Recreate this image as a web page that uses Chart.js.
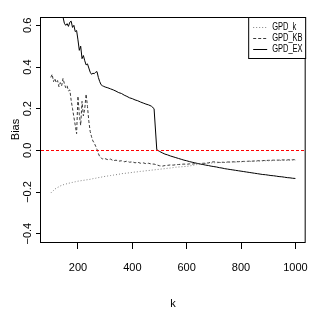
<!DOCTYPE html>
<html lang="en">
<head>
<meta charset="UTF-8">
<title>Bias vs k</title>
<style>
    body { margin: 0; padding: 0; background: #fff; }
    #wrap { width: 320px; height: 327px; }
</style>
<script src="https://cdn.jsdelivr.net/npm/chart.js"></script>
</head>
<body>
<div id="wrap"><canvas id="biasChart" width="320" height="327"></canvas></div>
<script>
// k values (finer step at the start where the curves are noisy)
const kValues = [
    100, 105, 110, 115, 120, 125, 130, 135, 140, 145,
    150, 155, 160, 165, 170, 175, 180, 185, 190, 195,
    200, 205, 210, 215, 220, 225, 230, 235, 240, 245,
    250, 255, 260, 265, 270, 275, 280, 285, 290, 295,
    300,
    310, 320, 330, 340, 350, 360, 370, 380, 390, 400,
    410, 420, 430, 440, 450, 460, 470, 480, 490, 500,
    510, 520, 530, 540, 550, 560, 570, 580, 590, 600,
    610, 620, 630, 640, 650, 660, 670, 680, 690, 700,
    710, 720, 730, 740, 750, 760, 770, 780, 790, 800,
    810, 820, 830, 840, 850, 860, 870, 880, 890, 900,
    910, 920, 930, 940, 950, 960, 970, 980, 990, 1000
];

// GPD_k (dotted)
const biasK = [
    -0.205, -0.198, -0.193, -0.186, -0.182, -0.178, -0.175, -0.171, -0.168, -0.166,
    -0.163, -0.162, -0.160, -0.158, -0.157, -0.155, -0.154, -0.152, -0.151, -0.149,
    -0.148, -0.147, -0.146, -0.145, -0.144, -0.143, -0.142, -0.141, -0.140, -0.139,
    -0.138, -0.136, -0.135, -0.134, -0.132, -0.131, -0.130, -0.129, -0.127, -0.126,
    -0.125,
    -0.123, -0.121, -0.119, -0.117, -0.115, -0.112, -0.111, -0.109, -0.108, -0.106,
    -0.104, -0.103, -0.101, -0.100, -0.098, -0.097, -0.095, -0.094, -0.092, -0.091,
    -0.089, -0.088, -0.086, -0.085, -0.083, -0.081, -0.080, -0.079, -0.078, -0.077,
    -0.075, -0.073, -0.070, -0.068, -0.066, -0.064, -0.063, -0.062, -0.061, -0.060,
    -0.059, -0.059, -0.058, -0.058, -0.057, -0.057, -0.056, -0.056, -0.055, -0.055,
    -0.054, -0.054, -0.053, -0.053, -0.052, -0.052, -0.051, -0.051, -0.050, -0.050,
    -0.050, -0.049, -0.049, -0.049, -0.048, -0.048, -0.048, -0.048, -0.047, -0.047
];

// GPD_KB (dashed)
const biasKB = [
    0.350, 0.365, 0.330, 0.345, 0.325, 0.335, 0.305, 0.325, 0.310, 0.345,
    0.320, 0.300, 0.310, 0.285, 0.290, 0.240, 0.200, 0.160, 0.120, 0.080,
    0.260, 0.170, 0.120, 0.235, 0.165, 0.200, 0.270, 0.210, 0.140, 0.090,
    0.065, 0.045, 0.035, 0.020, 0.005, -0.015, -0.030, -0.035, -0.042, -0.038,
    -0.040,
    -0.045, -0.042, -0.050, -0.047, -0.052, -0.050, -0.055, -0.052, -0.057, -0.055,
    -0.060, -0.057, -0.062, -0.060, -0.064, -0.062, -0.066, -0.066, -0.070, -0.074,
    -0.076, -0.073, -0.072, -0.070, -0.071, -0.069, -0.068, -0.067, -0.066, -0.067,
    -0.065, -0.066, -0.064, -0.063, -0.064, -0.062, -0.062, -0.060, -0.057, -0.055,
    -0.057, -0.058, -0.057, -0.058, -0.056, -0.056, -0.055, -0.056, -0.054, -0.054,
    -0.053, -0.053, -0.052, -0.052, -0.051, -0.050, -0.050, -0.049, -0.049, -0.048,
    -0.048, -0.047, -0.047, -0.047, -0.046, -0.046, -0.046, -0.045, -0.045, -0.045
];

// GPD_EX (solid)
const biasEX = [
    0.800, 0.780, 0.770, 0.750, 0.730, 0.720, 0.700, 0.680, 0.660, 0.640,
    0.610, 0.600, 0.608, 0.595, 0.615, 0.620, 0.590, 0.600, 0.570, 0.575,
    0.530, 0.480, 0.500, 0.440, 0.455, 0.430, 0.410, 0.415, 0.395, 0.375,
    0.365, 0.370, 0.368, 0.375, 0.378, 0.350, 0.330, 0.315, 0.310, 0.307,
    0.304,
    0.300, 0.295, 0.290, 0.284, 0.277, 0.273, 0.265, 0.259, 0.252, 0.248,
    0.242, 0.238, 0.232, 0.227, 0.222, 0.218, 0.212, 0.200, 0.003, -0.005,
    -0.012, -0.018, -0.022, -0.027, -0.031, -0.035, -0.039, -0.043, -0.047, -0.050,
    -0.054, -0.057, -0.060, -0.063, -0.066, -0.068, -0.071, -0.073, -0.076, -0.078,
    -0.080, -0.083, -0.085, -0.088, -0.090, -0.092, -0.094, -0.096, -0.098, -0.100,
    -0.102, -0.104, -0.106, -0.108, -0.110, -0.112, -0.114, -0.116, -0.117, -0.119,
    -0.121, -0.122, -0.124, -0.126, -0.127, -0.129, -0.131, -0.132, -0.134, -0.135
];

const xTicks = [200, 400, 600, 800, 1000];
const yTicks = [-0.4, -0.2, 0.0, 0.2, 0.4, 0.6];
const refValue = 0; // red dashed line

const FONT = "'Liberation Sans', Arial, sans-serif";

const toPoints = ys => kValues.map((k, i) => ({ x: k, y: ys[i] }));

// red line at 0, box round the plot and the legend, R style
const rPlotPlugin = {
    id: 'rPlot',
    afterDatasetsDraw(chart) {
        const { ctx, chartArea: a, scales } = chart;
        const y0 = Math.round(scales.y.getPixelForValue(refValue)) + 0.5;
        ctx.save();
        ctx.lineWidth = 1;
        ctx.strokeStyle = '#ff0000';
        ctx.setLineDash([3, 2]);
        ctx.beginPath();
        ctx.moveTo(a.left, y0);
        ctx.lineTo(a.right, y0);
        ctx.stroke();
        ctx.restore();
    },
    afterDraw(chart) {
        const { ctx, chartArea: a } = chart;
        ctx.save();
        ctx.lineWidth = 1;
        ctx.strokeStyle = '#000';
        ctx.setLineDash([]);
        ctx.strokeRect(a.left - 0.5, a.top + 0.5, a.right - a.left + 0.5, a.bottom - a.top);

        // legend in the top right corner
        const w = 57, h = 41;
        const x0 = a.right - w;
        ctx.fillStyle = '#fff';
        ctx.fillRect(x0 + 0.5, a.top + 0.5, w, h);
        ctx.strokeRect(x0 + 0.5, a.top + 0.5, w, h);
        ctx.font = '10px ' + FONT;
        ctx.textBaseline = 'middle';
        ctx.textAlign = 'left';
        chart.data.datasets.forEach((ds, i) => {
            const yy = Math.round(a.top + 10 + i * 11) + 0.5;
            ctx.strokeStyle = ds.borderColor;
            ctx.setLineDash(ds.borderDash || []);
            ctx.beginPath();
            ctx.moveTo(x0 + 5, yy);
            ctx.lineTo(x0 + 19, yy);
            ctx.stroke();
            // narrow text like the R device font
            ctx.save();
            ctx.translate(x0 + 24, yy);
            ctx.scale(0.75, 1);
            ctx.fillStyle = '#000';
            ctx.fillText(ds.label, 0, 0);
            ctx.restore();
        });
        ctx.restore();
    }
};

new Chart(document.getElementById('biasChart'), {
    type: 'line',
    data: {
        datasets: [
            { label: 'GPD_k', data: toPoints(biasK), borderColor: '#808080', borderDash: [1, 2], borderWidth: 1 },
            { label: 'GPD_KB', data: toPoints(biasKB), borderColor: '#3a3a3a', borderDash: [3, 2], borderWidth: 1 },
            { label: 'GPD_EX', data: toPoints(biasEX), borderColor: '#000000', borderWidth: 1 }
        ]
    },
    options: {
        responsive: false,
        animation: false,
        elements: { point: { radius: 0 }, line: { tension: 0 } },
        layout: { padding: { top: 17, right: 10, left: 0, bottom: 0 } },
        plugins: { legend: { display: false }, tooltip: { enabled: false } },
        scales: {
            x: {
                type: 'linear',
                min: 64,
                max: 1036,
                afterBuildTicks: axis => { axis.ticks = xTicks.map(v => ({ value: v })); },
                afterFit: axis => { axis.height = 85; },
                grid: { display: true, drawOnChartArea: false, drawTicks: true, tickLength: 7, color: '#000' },
                border: { display: false },
                ticks: { color: '#000', font: { family: FONT, size: 11 }, padding: 12, maxRotation: 0, callback: v => String(v) },
                title: { display: true, text: 'k', color: '#000', font: { family: FONT, size: 11 }, padding: { bottom: 16 } }
            },
            y: {
                min: -0.44,
                max: 0.64,
                afterBuildTicks: axis => { axis.ticks = yTicks.map(v => ({ value: v })); },
                afterFit: axis => { axis.width = 41; },
                grid: { display: true, drawOnChartArea: false, drawTicks: true, tickLength: 5, color: '#000' },
                border: { display: false },
                ticks: {
                    color: '#000', font: { family: FONT, size: 11 }, padding: -3,
                    minRotation: 90, maxRotation: 90, crossAlign: 'center',
                    callback: v => v.toFixed(1).replace('-', '\u2212')
                },
                title: { display: true, text: 'Bias', color: '#000', font: { family: FONT, size: 11 }, padding: { top: 9 } }
            }
        }
    },
    plugins: [rPlotPlugin]
});
</script>
</body>
</html>
